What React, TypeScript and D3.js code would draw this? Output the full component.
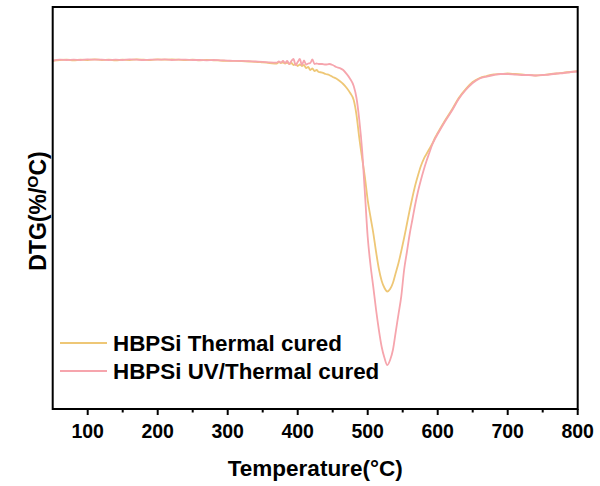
import React from "react";
import * as d3 from "d3";

// Temperature grid (°C)
const temperature = [
  50, 60, 70, 80, 90, 100, 110, 120, 130, 140, 150, 160, 170, 180, 190, 200, 210, 220, 230, 240,
  250, 260, 270, 280, 290, 300, 310, 320, 330, 340, 350, 360, 370,
  373, 376, 379, 382, 385, 388, 391, 394, 397, 400, 403, 406, 409, 412, 415, 418, 421, 424, 427, 430,
  435, 440, 445, 450, 455, 460, 465, 470, 475, 480,
  484, 488, 492, 496, 500, 504, 508, 512, 516, 520, 524, 528, 532, 536, 540, 544, 548, 552, 556, 560,
  564, 568, 572, 576, 580, 584, 588, 592, 596, 600,
  610, 620, 630, 640, 650, 660, 670, 680, 690, 700, 710, 720, 730, 740, 750, 760, 770, 780, 790, 800,
];

// DTG (%/°C) – HBPSi Thermal cured
const thermalDTG = [
  -0.003, 0.0, 0.001, -0.001, 0.001, 0.0, 0.002, 0.0, 0.001, -0.001, 0.001, 0.0, 0.002, 0.001, 0.0, 0.002, 0.001, 0.002, 0.001, 0.0,
  0.001, -0.001, 0.0, -0.001, -0.002, -0.003, -0.003, -0.004, -0.005, -0.006, -0.008, -0.01, -0.012,
  -0.0067, -0.01, -0.0083, -0.0117, -0.0083, -0.0133, -0.01, -0.0167, -0.0133, -0.02, -0.015, -0.02, -0.0167, -0.0267, -0.0233, -0.0333, -0.0283, -0.0367, -0.0333, -0.04,
  -0.0417, -0.0467, -0.05, -0.0567, -0.0617, -0.07, -0.08, -0.0933, -0.11, -0.1333,
  -0.1833, -0.26, -0.3267, -0.39, -0.4667, -0.5233, -0.5767, -0.64, -0.6967, -0.7367, -0.76, -0.7717, -0.7633, -0.7433, -0.71, -0.6767, -0.6367, -0.5933, -0.5467, -0.5,
  -0.4567, -0.4167, -0.3833, -0.3533, -0.33, -0.3133, -0.2967, -0.28, -0.26, -0.2433,
  -0.2033, -0.1667, -0.1267, -0.0967, -0.0733, -0.06, -0.0533, -0.0483, -0.0467, -0.045, -0.0467, -0.0483, -0.05, -0.0517, -0.05, -0.0467, -0.045, -0.0417, -0.04, -0.0367,
];

// DTG (%/°C) – HBPSi UV/Thermal cured
const uvThermalDTG = [
  -0.002, 0.001, 0.0, 0.001, 0.0, 0.002, 0.001, 0.001, 0.0, 0.001, 0.0, 0.002, 0.001, 0.0, 0.001, 0.001, 0.002, 0.0, 0.001, 0.001,
  0.0, 0.0, -0.001, 0.0, -0.001, -0.002, -0.003, -0.003, -0.004, -0.005, -0.006, -0.008, -0.009,
  -0.005, -0.0083, -0.0033, -0.01, -0.0033, -0.0133, -0.0033, 0.0033, -0.0167, -0.0067, 0.0033, -0.0167, -0.0017, -0.015, -0.0117, -0.01, 0.0017, -0.0133, -0.0117, -0.0133,
  -0.0133, -0.015, -0.0133, -0.0167, -0.0233, -0.0267, -0.0333, -0.0467, -0.0633, -0.0867,
  -0.1267, -0.2, -0.3, -0.4433, -0.59, -0.6833, -0.7567, -0.8333, -0.9, -0.9567, -0.9933, -1.0167, -1.0, -0.9667, -0.9067, -0.8467, -0.7867, -0.7, -0.64, -0.58,
  -0.53, -0.48, -0.4367, -0.4, -0.3667, -0.3367, -0.31, -0.2833, -0.2633, -0.2467,
  -0.2067, -0.17, -0.13, -0.1, -0.0767, -0.0617, -0.055, -0.05, -0.0467, -0.0467, -0.0483, -0.05, -0.05, -0.0517, -0.05, -0.0483, -0.045, -0.0433, -0.04, -0.0383,
];

const xMajorTicks = [100, 200, 300, 400, 500, 600, 700, 800];
const xMinorTicks = [150, 250, 350, 450, 550, 650, 750];
const seriesNames = ["HBPSi Thermal cured", "HBPSi UV/Thermal cured"];
const seriesColors = ["#EEC776", "#F6A5AD"];

const W = 600;
const H = 486;
const plot = { left: 52.7, right: 577.7, top: 7, bottom: 409 };
const FONT = "'Liberation Sans', Arial, Helvetica, sans-serif";

export default function App() {
  const x = d3.scaleLinear().domain([50, 800]).range([plot.left, plot.right]);
  const y = d3.scaleLinear().domain([-1.1633, 0.1767]).range([plot.bottom, plot.top]);

  const line = d3
    .line<number>()
    .x((_, i) => x(temperature[i]))
    .y((d) => y(d))
    .curve(d3.curveMonotoneX);

  const series = [thermalDTG, uvThermalDTG];

  return (
    <svg
      width={W}
      height={H}
      style={{ position: "fixed", left: 0, top: 0, background: "#fff" }}
      fontFamily={FONT}
    >
      <rect x={0} y={0} width={W} height={H} fill="#fff" />
      {series.map((s, i) => (
        <path key={i} d={line(s) || ""} fill="none" stroke={seriesColors[i]} strokeWidth={1.8} strokeLinejoin="round" />
      ))}
      {/* frame */}
      <rect
        x={plot.left}
        y={plot.top}
        width={plot.right - plot.left}
        height={plot.bottom - plot.top}
        fill="none"
        stroke="#000"
        strokeWidth={2}
      />
      {/* x ticks */}
      {xMajorTicks.map((t) => (
        <g key={"M" + t}>
          <line x1={x(t)} x2={x(t)} y1={plot.bottom} y2={plot.bottom + 6} stroke="#000" strokeWidth={2} />
          <text x={x(t)} y={438} textAnchor="middle" fontSize={19.5} fontWeight="bold" fill="#000">
            {t}
          </text>
        </g>
      ))}
      {xMinorTicks.map((t) => (
        <line key={"m" + t} x1={x(t)} x2={x(t)} y1={plot.bottom} y2={plot.bottom + 3.5} stroke="#000" strokeWidth={2} />
      ))}
      {/* axis titles */}
      <text x={(plot.left + plot.right) / 2} y={476} textAnchor="middle" fontSize={22.5} fontWeight="bold" fill="#000">
        Temperature(°C)
      </text>
      <text
        transform={`translate(46,211) rotate(-90)`}
        textAnchor="middle"
        fontSize={23}
        fontWeight="bold"
        fill="#000"
      >
        DTG(%/
        <tspan fontSize={15.5} dy={-8.5}>O</tspan>
        <tspan dy={8.5}>C)</tspan>
      </text>
      {/* legend */}
      {seriesNames.map((n, i) => (
        <g key={n}>
          <line x1={60} x2={107} y1={343 + i * 28} y2={343 + i * 28} stroke={seriesColors[i]} strokeWidth={1.8} />
          <text x={113} y={350.5 + i * 28} fontSize={22.4} fontWeight="bold" fill="#000">
            {n}
          </text>
        </g>
      ))}
    </svg>
  );
}
